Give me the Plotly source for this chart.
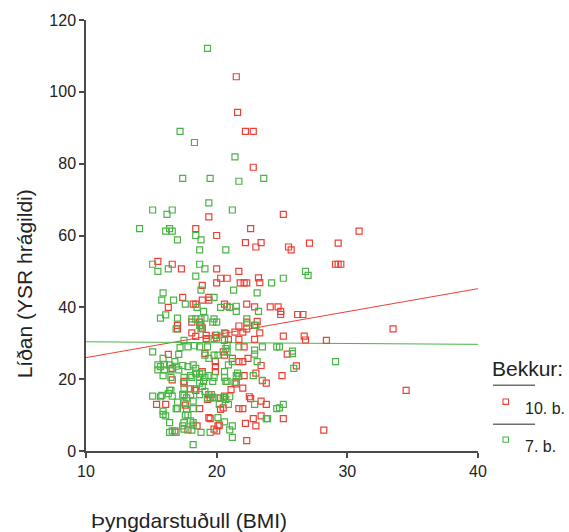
import plotly.graph_objects as go

# ---------------- data ----------------
# 10. b. (red)
red_x = [21.5, 21.6, 22.2, 22.8, 22.8, 19.4, 25.1, 18.4, 20.0, 22.6, 30.9, 22.2, 23.4, 23.0, 25.5, 25.7,
         27.1, 29.3, 29.1, 29.3, 29.5, 15.5, 16.6, 17.3, 20.0, 21.7, 20.3, 20.8, 20.0, 21.8, 22.1, 22.3,
         23.2, 23.3, 18.9, 17.4, 18.9, 19.4, 19.4, 18.2, 18.4, 16.3, 20.6, 20.8, 22.3, 22.9, 24.1, 24.7,
         24.9, 24.9, 26.2, 26.6, 17.0, 17.0, 18.1, 18.7, 18.8, 18.9, 21.7, 22.3, 22.3, 23.1, 22.9, 21.4,
         22.0, 23.3, 25.1, 26.7, 26.8, 28.4, 18.1, 18.4, 19.9, 20.0, 19.2, 19.2, 20.7, 20.9, 21.7, 22.9,
         33.5, 22.1, 25.4, 16.3, 19.1, 20.5, 20.6, 21.2, 22.4, 21.7, 22.0, 23.4, 26.1, 18.9, 19.9, 19.9,
         19.9, 23.0, 22.1, 25.0, 23.5, 21.5, 23.8, 21.1, 22.0, 22.5, 22.6, 23.4, 23.8, 21.7, 22.0, 22.8,
         23.4, 25.1, 22.2, 23.0, 22.3, 34.5, 28.2, 16.1, 16.8, 17.8, 18.5, 17.6, 17.5, 19.4, 20.1, 20.0,
         19.4, 19.5, 20.3, 20.5, 15.4, 16.6, 16.6, 17.5, 18.4, 19.3, 18.7, 19.5, 19.8, 20.2, 20.3, 20.6,
         18.0]
red_y = [104.2, 94.3, 89.0, 89.0, 79.0, 65.2, 65.9, 61.9, 60.0, 61.9, 61.2, 58.0, 58.0, 56.8, 56.8, 56.0,
         57.9, 57.9, 52.0, 52.0, 52.0, 52.8, 52.0, 50.7, 50.7, 50.0, 48.1, 48.1, 46.8, 46.8, 46.8, 46.8,
         48.2, 46.9, 46.1, 42.8, 42.0, 42.0, 42.8, 40.9, 40.9, 40.0, 40.9, 40.3, 40.9, 40.1, 40.1, 40.1,
         38.9, 38.0, 38.0, 38.0, 35.0, 34.0, 35.9, 35.9, 34.8, 34.2, 34.8, 35.9, 34.0, 36.1, 35.0, 33.1,
         33.1, 32.9, 32.0, 32.0, 30.9, 30.8, 32.9, 31.9, 32.2, 31.5, 32.2, 31.3, 32.7, 31.1, 31.1, 31.1,
         34.0, 29.0, 27.0, 26.9, 27.2, 27.6, 26.7, 25.8, 25.8, 24.9, 24.9, 23.8, 23.7, 22.1, 24.9, 23.5,
         22.1, 21.7, 21.0, 21.0, 19.6, 18.7, 18.9, 17.1, 17.5, 15.1, 14.6, 13.9, 13.0, 11.8, 11.8, 9.0,
         9.8, 9.0, 7.7, 7.0, 2.9, 16.9, 5.8, 13.0, 5.6, 5.9, 7.0, 12.8, 18.9, 9.3, 7.0, 5.6,
         15.7, 14.8, 14.8, 12.0, 13.0, 23.0, 19.8, 19.4, 16.9, 14.4, 11.8, 9.0, 6.1, 7.2, 11.6, 15.3,
         17.3]

# 7. b. (green)
green_x = [19.3, 17.2, 18.3, 21.4, 17.4, 19.5, 21.7, 23.6, 19.4, 15.1, 16.6, 16.2, 21.2, 14.1, 16.1, 16.4,
           16.6, 18.4, 17.0, 18.8, 18.7, 20.7, 15.1, 18.7, 15.5, 16.3, 19.1, 26.8, 27.0, 25.1, 18.4, 24.2,
           18.8, 21.3, 23.1, 15.9, 15.8, 16.7, 19.8, 17.6, 18.5, 20.3, 21.0, 21.5, 21.5, 23.2, 19.0, 15.7,
           16.1, 17.0, 18.1, 18.4, 18.8, 19.1, 19.8, 20.0, 22.3, 22.3, 23.0, 18.7, 18.8, 19.7, 20.6, 17.5,
           19.8, 20.0, 20.6, 15.1, 17.1, 17.8, 18.7, 19.1, 19.4, 20.1, 20.8, 20.8, 22.9, 23.5, 24.6, 24.8,
           25.8, 25.8, 29.1, 25.9, 21.2, 23.1, 21.6, 21.5, 21.7, 22.8, 20.8, 21.4, 21.5, 23.5, 21.0, 20.7,
           20.9, 22.9, 24.6, 25.1, 24.8, 23.8, 23.9, 21.2, 21.0, 21.2, 15.5, 15.7, 16.0, 16.4, 15.5, 16.0,
           16.5, 17.1, 17.8, 18.2, 18.4, 18.4, 18.7, 18.9, 16.5, 17.5, 18.1, 18.7, 19.1, 19.8, 20.6, 20.6,
           20.9, 15.7, 15.9, 16.1, 16.4, 16.5, 16.3, 16.6, 16.9, 17.0, 15.1, 15.8, 15.9, 16.4, 16.6, 16.9,
           17.4, 17.5, 17.6, 17.8, 18.2, 18.8, 20.1, 19.3, 19.7, 20.2, 17.7, 17.4, 17.5, 18.7, 19.0, 18.9,
           19.1, 16.4, 17.5, 18.0, 18.2, 18.2, 18.1, 17.7, 17.0, 17.5, 18.2, 18.2, 19.7, 19.6, 19.8, 20.6,
           19.5, 20.7, 18.3, 17.5, 17.2, 18.3, 19.3, 15.9, 16.8, 19.8, 20.7, 21.7, 22.9, 16.9, 16.9, 17.4,
           15.9, 18.0, 19.4, 18.0, 18.7, 20.5]
green_y = [112.1, 89.0, 85.9, 81.9, 75.9, 75.9, 75.1, 75.9, 69.1, 67.1, 67.1, 65.9, 67.1, 61.9, 61.2, 61.9,
           61.2, 60.0, 58.8, 58.8, 56.0, 56.0, 52.0, 52.0, 50.0, 50.7, 50.7, 50.0, 48.9, 48.1, 48.7, 46.8,
           44.8, 44.8, 44.0, 44.0, 42.0, 42.0, 42.8, 40.9, 40.0, 40.0, 40.0, 40.3, 38.9, 38.9, 38.9, 37.0,
           37.9, 37.0, 36.8, 36.8, 36.8, 37.0, 36.8, 35.9, 36.8, 35.7, 35.0, 35.0, 34.0, 35.9, 32.9, 30.8,
           31.3, 32.2, 30.8, 27.6, 26.9, 29.0, 29.0, 26.7, 25.8, 26.7, 29.5, 27.6, 27.0, 29.0, 29.0, 29.0,
           27.8, 27.1, 24.9, 23.0, 24.9, 24.9, 21.7, 21.0, 20.8, 21.0, 19.4, 19.1, 19.1, 19.7, 15.1, 14.4,
           13.0, 13.0, 11.8, 13.0, 12.0, 9.0, 9.0, 7.0, 5.9, 3.8, 24.0, 23.5, 24.0, 24.0, 22.6, 22.6,
           22.6, 22.6, 23.5, 24.0, 23.0, 21.7, 21.4, 21.7, 20.5, 20.5, 20.5, 20.5, 20.5, 20.5, 20.5, 22.1,
           24.0, 15.1, 11.1, 9.8, 16.9, 16.9, 16.0, 15.3, 11.8, 11.8, 15.3, 15.5, 10.2, 5.2, 5.6, 5.2,
           7.0, 7.9, 10.0, 10.0, 1.8, 5.2, 9.3, 14.8, 15.0, 13.0, 14.8, 15.7, 17.5, 18.9, 19.4, 18.0,
           16.6, 7.9, 6.1, 8.4, 7.9, 7.2, 5.8, 11.6, 13.6, 13.4, 13.9, 11.8, 19.4, 15.7, 14.8, 8.1,
           5.2, 19.4, 17.3, 15.5, 28.8, 29.3, 29.0, 25.8, 24.9, 26.7, 28.5, 29.0, 28.1, 34.0, 23.6, 23.8,
           21.0, 21.0, 21.0, 15.7, 15.7, 14.9]

# fitted lines (values at x = 10 and x = 40)
fit_x = [10, 40]
red_fit = [26.0, 45.2]
green_fit = [30.4, 29.7]

x_ticks = [10, 20, 30, 40]
y_ticks = [0, 20, 40, 60, 80, 100, 120]

x_title = "Þyngdarstuðull (BMI)"
y_title = "Líðan (YSR hrágildi)"
legend_title = "Bekkur:"
group_names = ["10. b.", "7. b."]

RED = "#ee4036"
GREEN = "#4bb447"
AXIS = "#4a4a4a"
TXT = "#222222"
FONT = "Liberation Sans, Arial, sans-serif"

# ---------------- figure ----------------
fig = go.Figure()

fig.add_trace(go.Scatter(
    x=fit_x, y=red_fit, mode="lines", line=dict(color=RED, width=1),
    hoverinfo="skip", showlegend=False))
fig.add_trace(go.Scatter(
    x=fit_x, y=green_fit, mode="lines", line=dict(color=GREEN, width=1),
    hoverinfo="skip", showlegend=False))

fig.add_trace(go.Scatter(
    x=red_x, y=red_y, mode="markers", name=group_names[0],
    marker=dict(symbol="square-open", size=6, color=RED, line=dict(width=1.2, color=RED)),
    showlegend=False))
fig.add_trace(go.Scatter(
    x=green_x, y=green_y, mode="markers", name=group_names[1],
    marker=dict(symbol="square-open", size=6, color=GREEN, line=dict(width=1.2, color=GREEN)),
    showlegend=False))

W, H = 569, 532
L, R, T, B = 86, 91, 14, 81
pw, ph = W - L - R, H - T - B


def px2paper(px, py):
    return (px - L) / pw, (H - B - py) / ph


axis_common = dict(
    showline=True, linecolor=AXIS, linewidth=1.5, ticks="outside", ticklen=5,
    tickcolor=AXIS, tickwidth=1.5, showgrid=False, zeroline=False,
    tickfont=dict(family=FONT, size=16, color=TXT), fixedrange=True,
)

fig.update_layout(
    width=W, height=H,
    margin=dict(l=L, r=R, t=T, b=B),
    paper_bgcolor="white", plot_bgcolor="white",
    font=dict(family=FONT, color=TXT),
    xaxis=dict(range=[10, 40], tickvals=x_ticks, **axis_common),
    yaxis=dict(range=[0, 120], tickvals=y_ticks, **axis_common),
    showlegend=False,
)

annotations = []
# axis titles
ax, ay = px2paper(189, 521)
annotations.append(dict(text=x_title, x=ax, y=ay, xref="paper", yref="paper",
                        xanchor="center", yanchor="middle", showarrow=False,
                        font=dict(family=FONT, size=21, color=TXT)))
ax, ay = px2paper(24, 282)
annotations.append(dict(text=y_title, x=ax, y=ay, xref="paper", yref="paper",
                        xanchor="center", yanchor="middle", showarrow=False, textangle=-90,
                        font=dict(family=FONT, size=21, color=TXT)))
# legend
ax, ay = px2paper(490, 367)
annotations.append(dict(text=legend_title, x=ax, y=ay, xref="paper", yref="paper",
                        xanchor="left", yanchor="middle", showarrow=False,
                        font=dict(family=FONT, size=21, color=TXT)))
for name, cy in zip(group_names, [407.5, 446.5]):
    ax, ay = px2paper(523, cy)
    annotations.append(dict(text=name, x=ax, y=ay, xref="paper", yref="paper",
                            xanchor="left", yanchor="middle", showarrow=False,
                            font=dict(family=FONT, size=16, color=TXT)))

shapes = []
for ly in [384.3, 424.0]:
    x0, y0 = px2paper(493, ly)
    x1, _ = px2paper(535, ly)
    shapes.append(dict(type="line", xref="paper", yref="paper", x0=x0, x1=x1, y0=y0, y1=y0,
                       line=dict(color="#6e6e6e", width=1.5)))
for col, cy in zip([RED, GREEN], [401.0, 439.5]):
    x0, y0 = px2paper(503, cy + 2.7)
    x1, y1 = px2paper(508.5, cy - 2.7)
    shapes.append(dict(type="rect", xref="paper", yref="paper", x0=x0, x1=x1, y0=y0, y1=y1,
                       line=dict(color=col, width=1.1), fillcolor="rgba(0,0,0,0)"))

fig.update_layout(annotations=annotations, shapes=shapes)

fig.write_html("out.html")
